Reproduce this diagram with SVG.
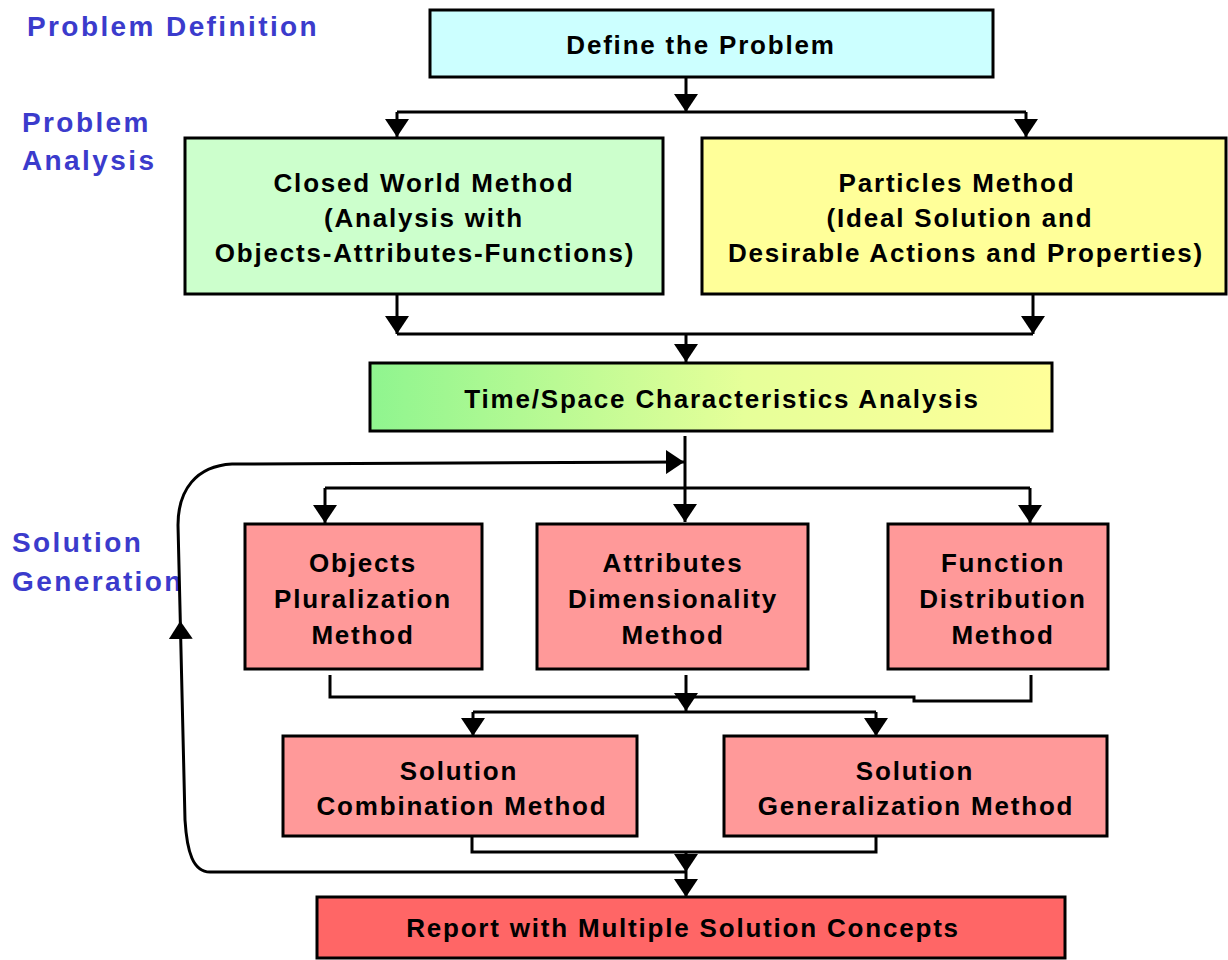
<svg xmlns="http://www.w3.org/2000/svg" width="1228" height="960" viewBox="0 0 1228 960">
<style>
.lbl{font-family:"Liberation Sans",Arial,sans-serif;font-weight:bold;font-size:28px;fill:#3b3bcc;letter-spacing:2.4px}
.box{stroke:#000;stroke-width:3}
.t{font-family:"Liberation Sans",Arial,sans-serif;font-weight:bold;font-size:26px;fill:#000;text-anchor:middle;letter-spacing:1.8px}
.c{fill:none;stroke:#000;stroke-width:3}
.a{fill:none;stroke:#000;stroke-width:3;marker-end:url(#ah)}
</style>
<defs>
<marker id="ah" viewBox="0 0 18 24" refX="18" refY="12" markerWidth="18" markerHeight="24" markerUnits="userSpaceOnUse" orient="auto">
<path d="M0,0 L18,12 L0,24 Z" fill="#000"/>
</marker>
<linearGradient id="gts" x1="0" y1="0" x2="1" y2="0">
<stop offset="0" stop-color="#8ff58f"/>
<stop offset="0.55" stop-color="#e6ff99"/>
<stop offset="1" stop-color="#ffff99"/>
</linearGradient>
</defs>
<rect width="1228" height="960" fill="#fff"/>

<g id="labels">
<text class="lbl" x="27" y="36">Problem Definition</text>
<text class="lbl" x="22" y="132">Problem</text>
<text class="lbl" x="22" y="170">Analysis</text>
<text class="lbl" x="12" y="552">Solution</text>
<text class="lbl" x="12" y="591">Generation</text>
</g>

<g id="connectors">
<path class="a" d="M686,77 V112"/>
<path class="c" d="M397,112 H1026"/>
<path class="a" d="M397,112 V137"/>
<path class="a" d="M1026,112 V137"/>
<path class="a" d="M397,285 V334"/>
<path class="a" d="M1033,295 V334"/>
<path class="c" d="M397,334 H1033"/>
<path class="a" d="M686,334 V362"/>
<path class="a" d="M685,436 V522"/>
<path class="c" d="M325,488 H1030"/>
<path class="a" d="M325,488 V523"/>
<path class="a" d="M1030,488 V523"/>
<path class="a" d="M686,872 H210 C193,872 187,852 185,820 L180.3,621"/>
<path class="a" d="M180.3,621 L178,525 C178,490 196,466 232,464 L684,462"/>
<path class="c" d="M330,675 V697 H914 V701 H1031 V675"/>
<path class="a" d="M686,675 V711"/>
<path class="c" d="M473,712 H876"/>
<path class="a" d="M473,712 V736"/>
<path class="a" d="M876,712 V736"/>
<path class="c" d="M472,825 V852 H876 V825"/>
<path class="a" d="M686,852 V872"/>
<path class="a" d="M686,872 V897"/>
</g>

<g id="define">
<rect class="box" x="430" y="10" width="563" height="67" fill="#ccffff"/>
<text class="t" x="701" y="54">Define the Problem</text>
</g>

<g id="closed-world">
<rect class="box" x="185" y="138" width="478" height="156" fill="#ccffcc"/>
<text class="t" x="424" y="192">Closed World Method</text>
<text class="t" x="424" y="227">(Analysis with</text>
<text class="t" x="425" y="262">Objects-Attributes-Functions)</text>
</g>

<g id="particles">
<rect class="box" x="702" y="138" width="524" height="156" fill="#ffff99"/>
<text class="t" x="957" y="192">Particles Method</text>
<text class="t" x="960" y="227">(Ideal Solution and</text>
<text class="t" x="966" y="262">Desirable Actions and Properties)</text>
</g>

<g id="timespace">
<rect class="box" x="370" y="363" width="682" height="68" fill="url(#gts)"/>
<text class="t" x="722" y="408">Time/Space Characteristics Analysis</text>
</g>

<g id="objects">
<rect class="box" x="245" y="524" width="237" height="145" fill="#ff9999"/>
<text class="t" x="363" y="572">Objects</text>
<text class="t" x="363" y="608">Pluralization</text>
<text class="t" x="363" y="644">Method</text>
</g>

<g id="attributes">
<rect class="box" x="537" y="524" width="271" height="145" fill="#ff9999"/>
<text class="t" x="673" y="572">Attributes</text>
<text class="t" x="673" y="608">Dimensionality</text>
<text class="t" x="673" y="644">Method</text>
</g>

<g id="function">
<rect class="box" x="888" y="524" width="220" height="145" fill="#ff9999"/>
<text class="t" x="1003" y="572">Function</text>
<text class="t" x="1003" y="608">Distribution</text>
<text class="t" x="1003" y="644">Method</text>
</g>

<g id="combination">
<rect class="box" x="283" y="736" width="354" height="100" fill="#ff9999"/>
<text class="t" x="459" y="780">Solution</text>
<text class="t" x="462" y="815">Combination Method</text>
</g>

<g id="generalization">
<rect class="box" x="724" y="736" width="383" height="100" fill="#ff9999"/>
<text class="t" x="915" y="780">Solution</text>
<text class="t" x="916" y="815">Generalization Method</text>
</g>

<g id="report">
<rect class="box" x="317" y="897" width="748" height="61" fill="#ff6666"/>
<text class="t" x="683" y="937">Report with Multiple Solution Concepts</text>
</g>
</svg>
